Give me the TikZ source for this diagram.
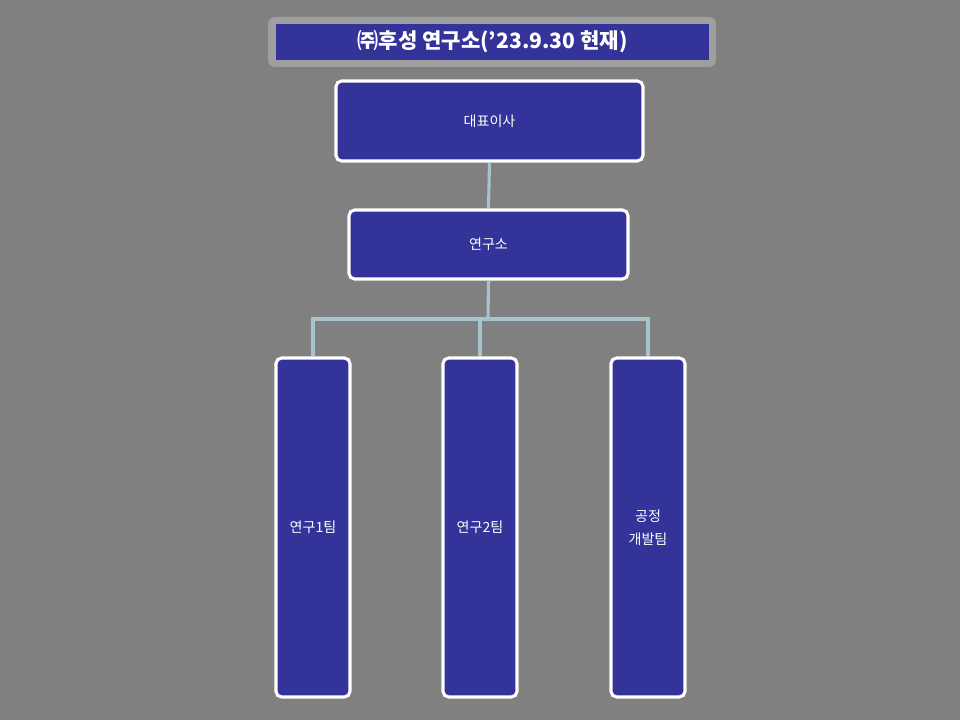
\documentclass[tikz,border=0pt]{standalone}
\usepackage{fontspec}
\newfontfamily\kr{Noto Sans CJK KR}
\definecolor{bg}{HTML}{808080}
\definecolor{box}{HTML}{333399}
\definecolor{ln}{HTML}{A6C4CC}
\begin{document}
\begin{tikzpicture}[x=0.025cm,y=-0.025cm,
  bx/.style={draw=white,line width=2.2pt,fill=box,rounded corners=4pt,text=white,font=\kr\fontsize{10}{14}\selectfont,align=center},
  cn/.style={draw=ln,line width=2.2pt}]
\fill[bg] (0,0) rectangle (960,720);
\fill[fill=gray!75,rounded corners=5pt] (268,17) rectangle (716,67);
\node[fill=box,minimum width=433*0.025cm,minimum height=36*0.025cm,inner sep=0pt,text=white,font=\kr\bfseries\fontsize{15}{18}\selectfont] (title) at (492.5,42) {㈜후성 연구소(’23.9.30 현재)};
\node[bx,minimum width=307*0.025cm,minimum height=80*0.025cm] (ceo) at (489.5,121) {대표이사};
\node[bx,minimum width=279*0.025cm,minimum height=69*0.025cm] (lab) at (488.5,244.5) {연구소};
\node[bx,minimum width=74*0.025cm,minimum height=339*0.025cm] (t1) at (313,527.5) {연구1팀};
\node[bx,minimum width=74*0.025cm,minimum height=339*0.025cm] (t2) at (480,527.5) {연구2팀};
\node[bx,minimum width=74*0.025cm,minimum height=339*0.025cm] (t3) at (648,527.5) {공정\\[2pt]개발팀};
\draw[cn] (ceo.south) -- (lab.north);
\coordinate (j) at (488,319);
\draw[cn] (lab.south) -- (j);
\draw[cn] (t1.north) |- (j) -| (t3.north);
\draw[cn] (t2.north) -- (t2.north |- j);
\end{tikzpicture}
\end{document}
